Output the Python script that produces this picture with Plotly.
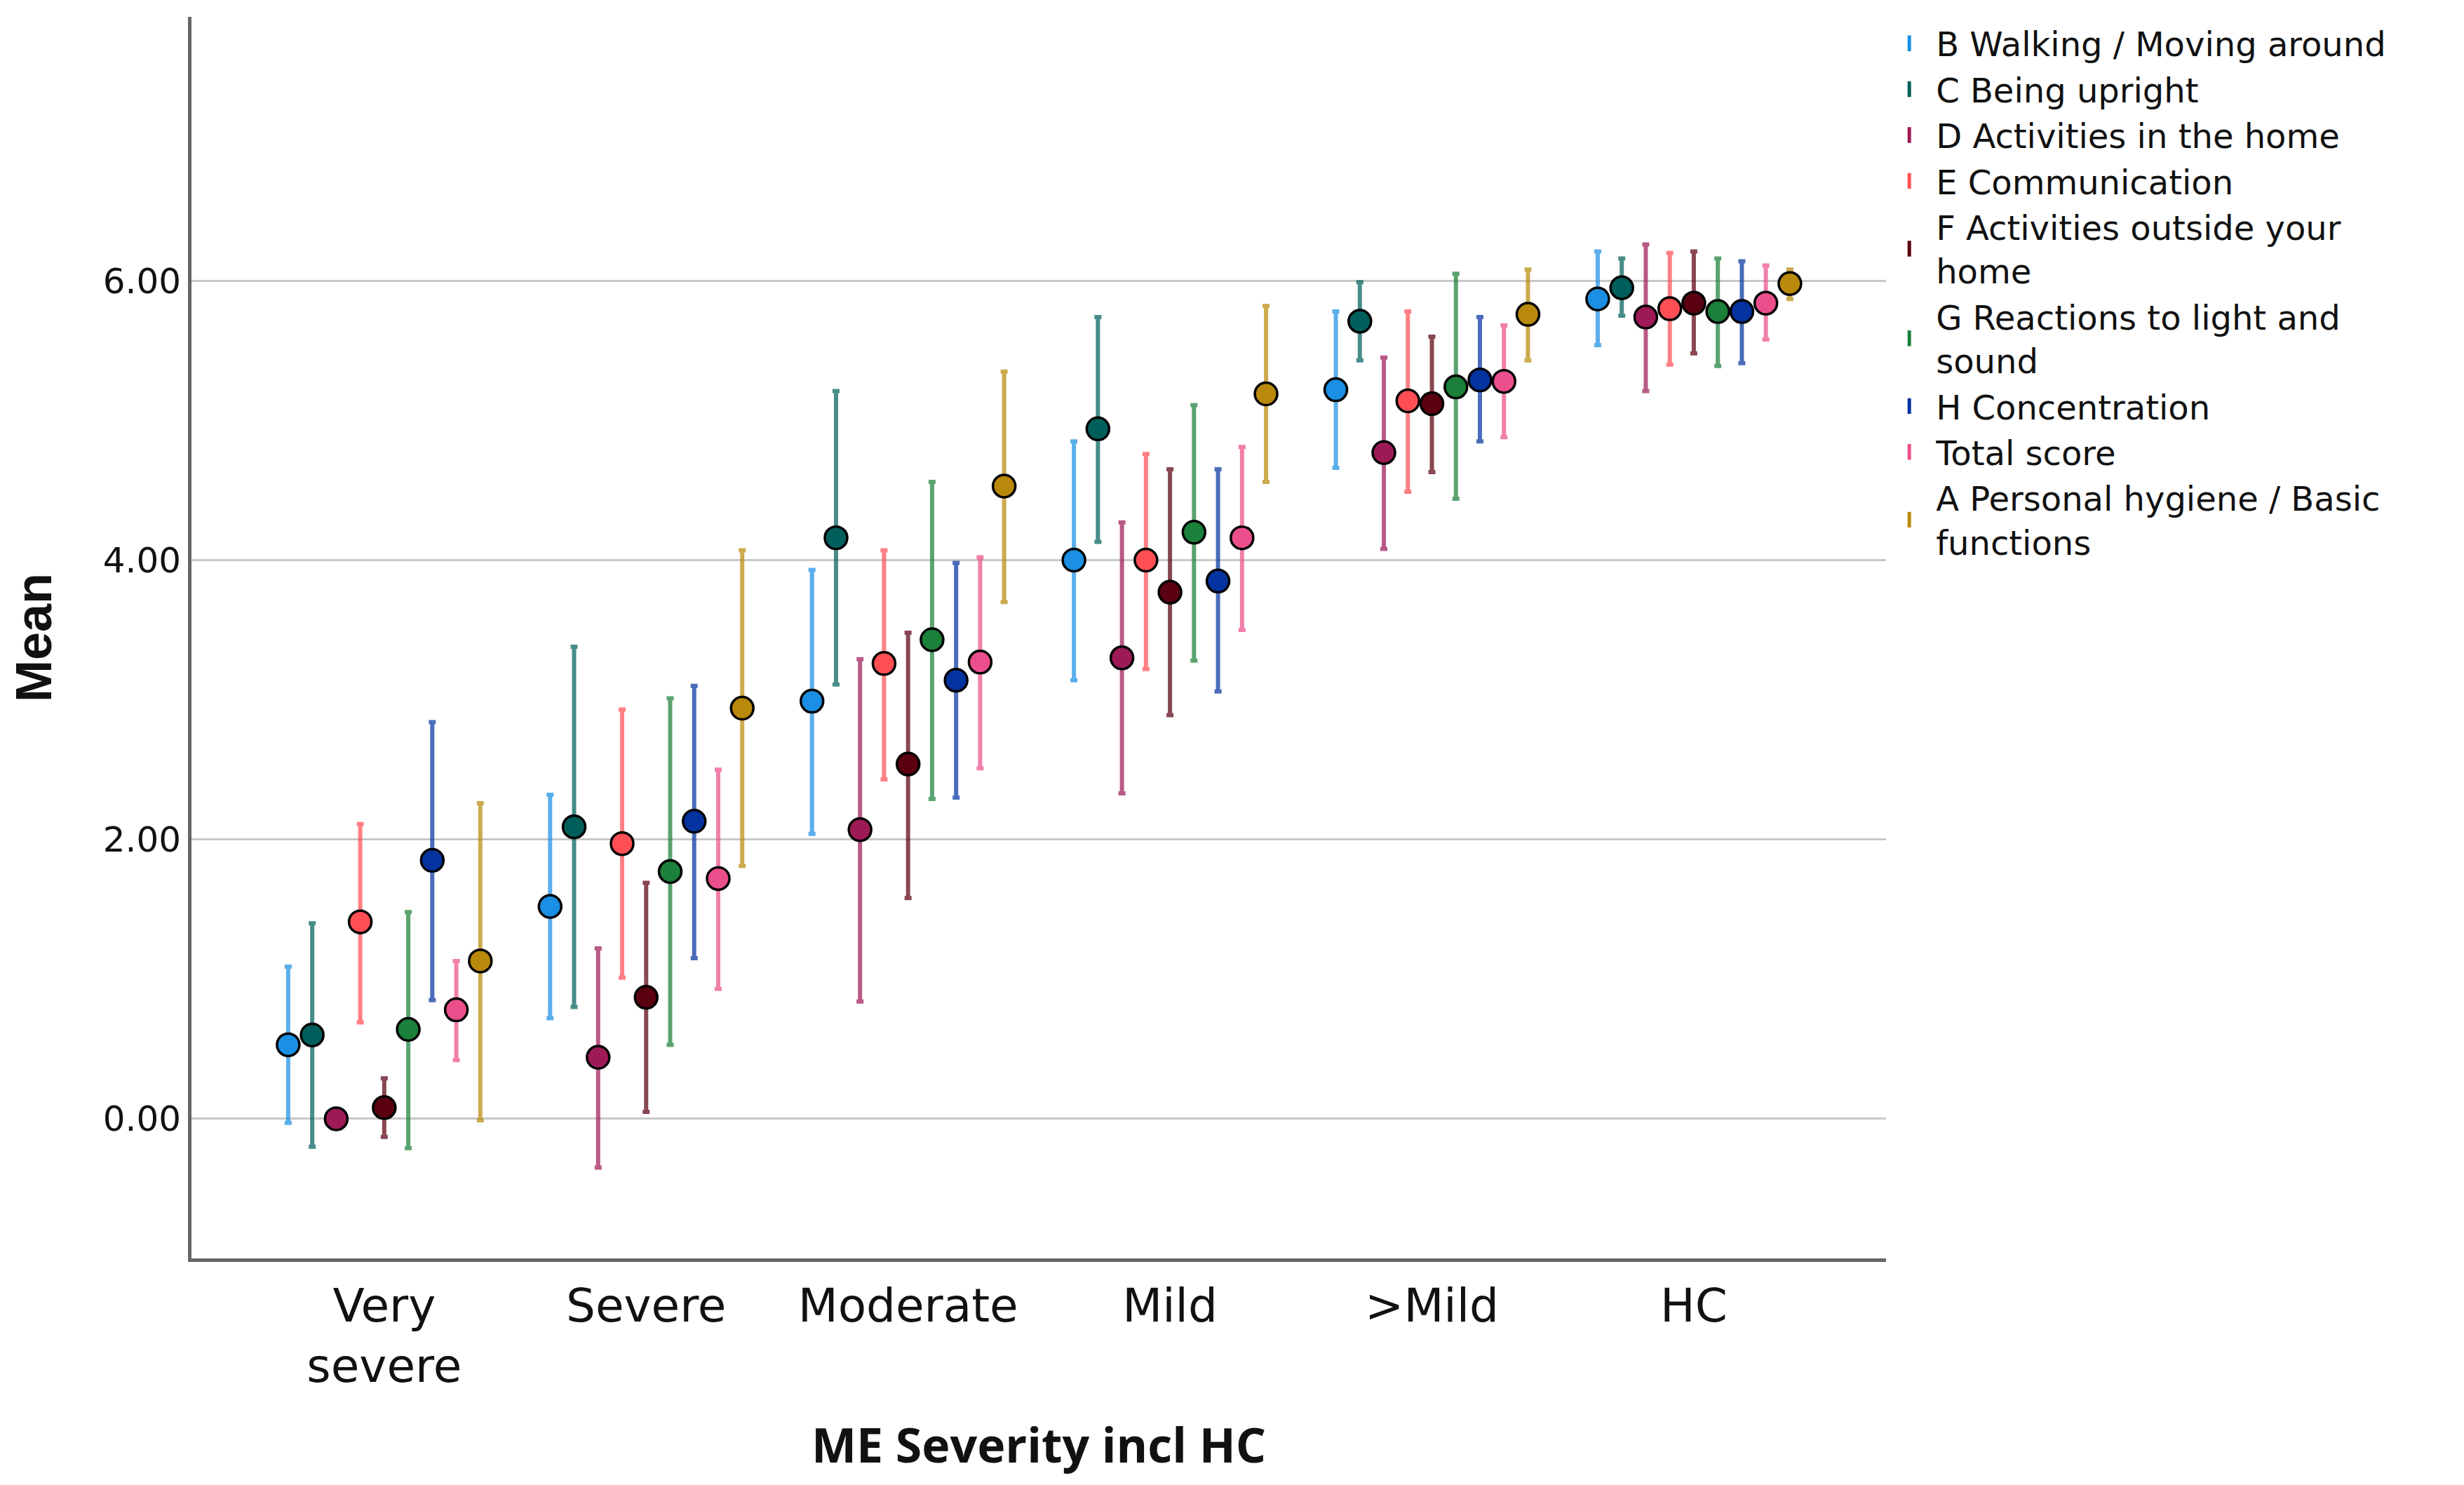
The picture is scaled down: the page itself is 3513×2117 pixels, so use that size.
import plotly.graph_objects as go

# 严重程度分组
categories = ["Very<br>severe", "Severe", "Moderate", "Mild", ">Mild", "HC"]

series_names = [
    "B Walking / Moving around",
    "C Being upright",
    "D Activities in the home",
    "E Communication",
    "F Activities outside your<br>home",
    "G Reactions to light and<br>sound",
    "H Concentration",
    "Total score",
    "A Personal hygiene / Basic<br>functions",
]

series_colors = ["#1a8fe3", "#005f5b", "#9e1a57", "#ff4f55", "#5a0010",
                 "#1b8039", "#0433a0", "#eb4f8b", "#b8890a"]

# 均值
mean_b = [0.53, 1.52, 2.99, 4.00, 5.22, 5.87]
mean_c = [0.60, 2.09, 4.16, 4.94, 5.71, 5.95]
mean_d = [0.00, 0.44, 2.07, 3.30, 4.77, 5.74]
mean_e = [1.41, 1.97, 3.26, 4.00, 5.14, 5.80]
mean_f = [0.08, 0.87, 2.54, 3.77, 5.12, 5.84]
mean_g = [0.64, 1.77, 3.43, 4.20, 5.24, 5.78]
mean_h = [1.85, 2.13, 3.14, 3.85, 5.29, 5.78]
mean_total = [0.78, 1.72, 3.27, 4.16, 5.28, 5.84]
mean_a = [1.13, 2.94, 4.53, 5.19, 5.76, 5.98]

# 95% 置信区间上限
upper_b = [1.09, 2.32, 3.93, 4.85, 5.78, 6.21]
upper_c = [1.40, 3.38, 5.21, 5.74, 5.99, 6.16]
upper_d = [0.00, 1.22, 3.29, 4.27, 5.45, 6.26]
upper_e = [2.11, 2.93, 4.07, 4.76, 5.78, 6.20]
upper_f = [0.29, 1.69, 3.48, 4.65, 5.60, 6.21]
upper_g = [1.48, 3.01, 4.56, 5.11, 6.05, 6.16]
upper_h = [2.84, 3.10, 3.98, 4.65, 5.74, 6.14]
upper_total = [1.13, 2.50, 4.02, 4.81, 5.68, 6.11]
upper_a = [2.26, 4.07, 5.35, 5.82, 6.08, 6.08]

# 95% 置信区间下限
lower_b = [-0.03, 0.72, 2.04, 3.14, 4.66, 5.54]
lower_c = [-0.20, 0.80, 3.11, 4.13, 5.43, 5.75]
lower_d = [0.00, -0.35, 0.84, 2.33, 4.08, 5.21]
lower_e = [0.69, 1.01, 2.43, 3.22, 4.49, 5.40]
lower_f = [-0.13, 0.05, 1.58, 2.89, 4.63, 5.48]
lower_g = [-0.21, 0.53, 2.29, 3.28, 4.44, 5.39]
lower_h = [0.85, 1.15, 2.30, 3.06, 4.85, 5.41]
lower_total = [0.42, 0.93, 2.51, 3.50, 4.88, 5.58]
lower_a = [-0.01, 1.81, 3.70, 4.56, 5.43, 5.87]

means = [mean_b, mean_c, mean_d, mean_e, mean_f, mean_g, mean_h, mean_total, mean_a]
uppers = [upper_b, upper_c, upper_d, upper_e, upper_f, upper_g, upper_h, upper_total, upper_a]
lowers = [lower_b, lower_c, lower_d, lower_e, lower_f, lower_g, lower_h, lower_total, lower_a]


def faded(hex_color, alpha=0.72):
    h = hex_color.lstrip("#")
    r, g, b = int(h[0:2], 16), int(h[2:4], 16), int(h[4:6], 16)
    return f"rgba({r},{g},{b},{alpha})"


fig = go.Figure()

n = len(series_names)
step = 0.0917  # 组内间距（类别单位）
for i in range(n):
    offset = (i - (n - 1) / 2) * step
    xs = [k + offset for k in range(len(categories))]
    m = means[i]
    err_plus = [u - v for u, v in zip(uppers[i], m)]
    err_minus = [v - lo for v, lo in zip(m, lowers[i])]
    fig.add_trace(go.Scatter(
        x=xs, y=m, mode="markers", name=series_names[i], showlegend=False,
        marker=dict(size=32, color=series_colors[i], line=dict(color="black", width=3.5)),
        error_y=dict(type="data", symmetric=False, array=err_plus, arrayminus=err_minus,
                     color=faded(series_colors[i]), thickness=6, width=5),
    ))

# 图例（SPSS 风格的误差线符号）
for i in range(n):
    fig.add_trace(go.Scatter(
        x=[None], y=[None], mode="markers", name=series_names[i],
        marker=dict(symbol="line-ns", size=30, color=series_colors[i],
                    line=dict(color=series_colors[i], width=5)),
    ))

# 页面 body 默认有 8px 边距，这里把画布缩小 8px 来抵消
fig.update_layout(
    width=3505, height=2109,
    margin=dict(l=265, r=824, t=16, b=323, autoexpand=False),
    paper_bgcolor="white", plot_bgcolor="white",
    font=dict(family="DejaVu Sans", color="#111111"),
    legend=dict(x=0.998, xanchor="left", y=1.0, yanchor="top",
                font=dict(family="DejaVu Sans", size=48, color="#111111"),
                itemwidth=66, tracegroupgap=0, bgcolor="rgba(0,0,0,0)"),
)

fig.update_xaxes(
    range=[-0.736, 5.734], tickmode="array",
    tickvals=list(range(len(categories))), ticktext=categories,
    showgrid=False, zeroline=False,
    showline=True, linecolor="#666666", linewidth=5,
    ticks="", ticklabelstandoff=6,
    tickfont=dict(family="DejaVu Sans", size=66, color="#111111"),
    title=dict(text="ME Severity incl HC", standoff=54,
               font=dict(family="Open Sans", size=68, weight="bold", color="#111111")),
)

fig.update_yaxes(
    range=[-1.0, 7.89], tick0=0, dtick=2, tickformat=".2f",
    showgrid=True, gridcolor="#c8c8c8", gridwidth=3, zeroline=False,
    showline=True, linecolor="#666666", linewidth=5,
    ticks="", ticklabelstandoff=0,
    tickfont=dict(family="DejaVu Sans", size=50, color="#111111"),
    title=dict(text="Mean", standoff=60,
               font=dict(family="Liberation Sans", size=72, weight="bold", color="#111111")),
)

fig.write_html("out.html")
